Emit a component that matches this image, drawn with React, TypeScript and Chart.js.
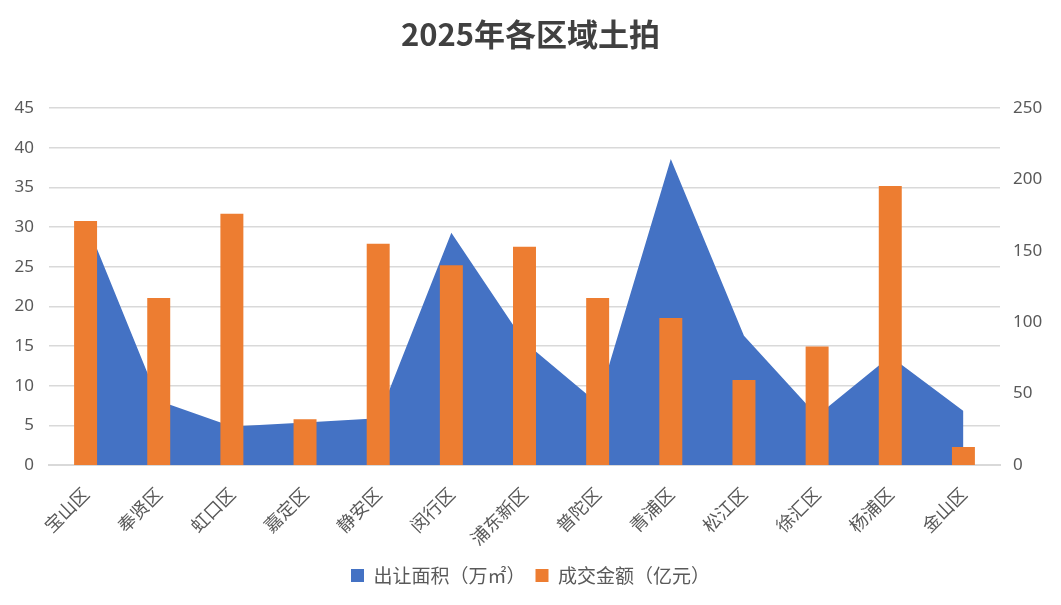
import React, { useEffect, useRef } from "react";
import { Chart, registerables } from "chart.js";

Chart.register(...registerables);

const categories = ["宝山区", "奉贤区", "虹口区", "嘉定区", "静安区", "闵行区", "浦东新区", "普陀区", "青浦区", "松江区", "徐汇区", "杨浦区", "金山区"];
const areaValues = [30.8, 8.1, 4.85, 5.35, 5.9, 29.3, 15.5, 7.8, 38.6, 16.3, 6.2, 13.7, 6.8];
const amountValues = [171, 117, 176, 32, 155, 140, 153, 117, 103, 59.5, 83, 195.5, 12.6];
const leftTicks = [0, 5, 10, 15, 20, 25, 30, 35, 40, 45];
const rightTicks = [0, 50, 100, 150, 200, 250];

const TITLE = "2025年各区域土拍";
const AREA_LABEL = "出让面积（万㎡）";
const AMOUNT_LABEL = "成交金额（亿元）";

const CJK = "'Noto Sans CJK SC', 'Noto Sans', sans-serif";
const NUM = "'Noto Sans', 'Open Sans', sans-serif";

export default function App() {
  const ref = useRef<HTMLCanvasElement | null>(null);

  useEffect(() => {
    if (!ref.current) return;
    const chart = new Chart(ref.current, {
      type: "bar",
      data: {
        labels: categories,
        datasets: [
          {
            type: "line",
            label: AREA_LABEL,
            data: areaValues,
            yAxisID: "y",
            backgroundColor: "#4472C4",
            borderColor: "#4472C4",
            borderWidth: 0,
            fill: "origin",
            pointRadius: 0,
            tension: 0,
            order: 2,
          } as any,
          {
            type: "bar",
            label: AMOUNT_LABEL,
            data: amountValues,
            yAxisID: "y1",
            backgroundColor: "#ED7D31",
            borderWidth: 0,
            barPercentage: 0.314,
            categoryPercentage: 1,
            order: 1,
          },
        ],
      },
      options: {
        responsive: false,
        animation: false,
        layout: { padding: { left: 0, right: 0, top: 0, bottom: 10 } },
        plugins: {
          tooltip: { enabled: false },
          title: {
            display: true,
            text: TITLE,
            color: "#404040",
            font: { family: CJK, size: 31, weight: "bold" },
            padding: { top: 16, bottom: 55 },
          },
          legend: {
            position: "bottom",
            labels: {
              color: "#595959",
              font: { family: CJK, size: 19 },
              boxWidth: 13,
              boxHeight: 13,
              padding: 10,
              sort: (a: any, b: any) => a.datasetIndex - b.datasetIndex,
            },
          },
        },
        scales: {
          x: {
            offset: true,
            grid: { display: false, drawTicks: false },
            border: { display: true, color: "#D9D9D9", width: 2 },
            ticks: {
              color: "#595959",
              font: { family: CJK, size: 18 },
              minRotation: 45,
              maxRotation: 45,
              padding: 18,
              autoSkip: false,
            },
            afterFit: (s: any) => {
              s.height = 91;
            },
          },
          y: {
            position: "left",
            min: 0,
            max: 45,
            afterBuildTicks: (s: any) => {
              s.ticks = leftTicks.map((v) => ({ value: v }));
            },
            grid: { color: "#D9D9D9", lineWidth: 1.5, drawTicks: false },
            border: { display: false },
            ticks: {
              color: "#595959",
              font: { family: NUM, size: 17 },
              padding: 15,
            },
            afterFit: (s: any) => {
              s.width = 49;
            },
          },
          y1: {
            position: "right",
            min: 0,
            max: 250,
            afterBuildTicks: (s: any) => {
              s.ticks = rightTicks.map((v) => ({ value: v }));
            },
            grid: { display: false, drawTicks: false },
            border: { display: false },
            ticks: {
              color: "#595959",
              font: { family: NUM, size: 17 },
              padding: 13,
            },
            afterFit: (s: any) => {
              s.width = 61;
            },
          },
        },
      },
    });
    return () => chart.destroy();
  }, []);

  return (
    <div style={{ position: "fixed", left: 0, top: 0, width: 1061, height: 605, background: "#fff" }}>
      <canvas ref={ref} width={1061} height={605} style={{ display: "block" }} />
    </div>
  );
}
